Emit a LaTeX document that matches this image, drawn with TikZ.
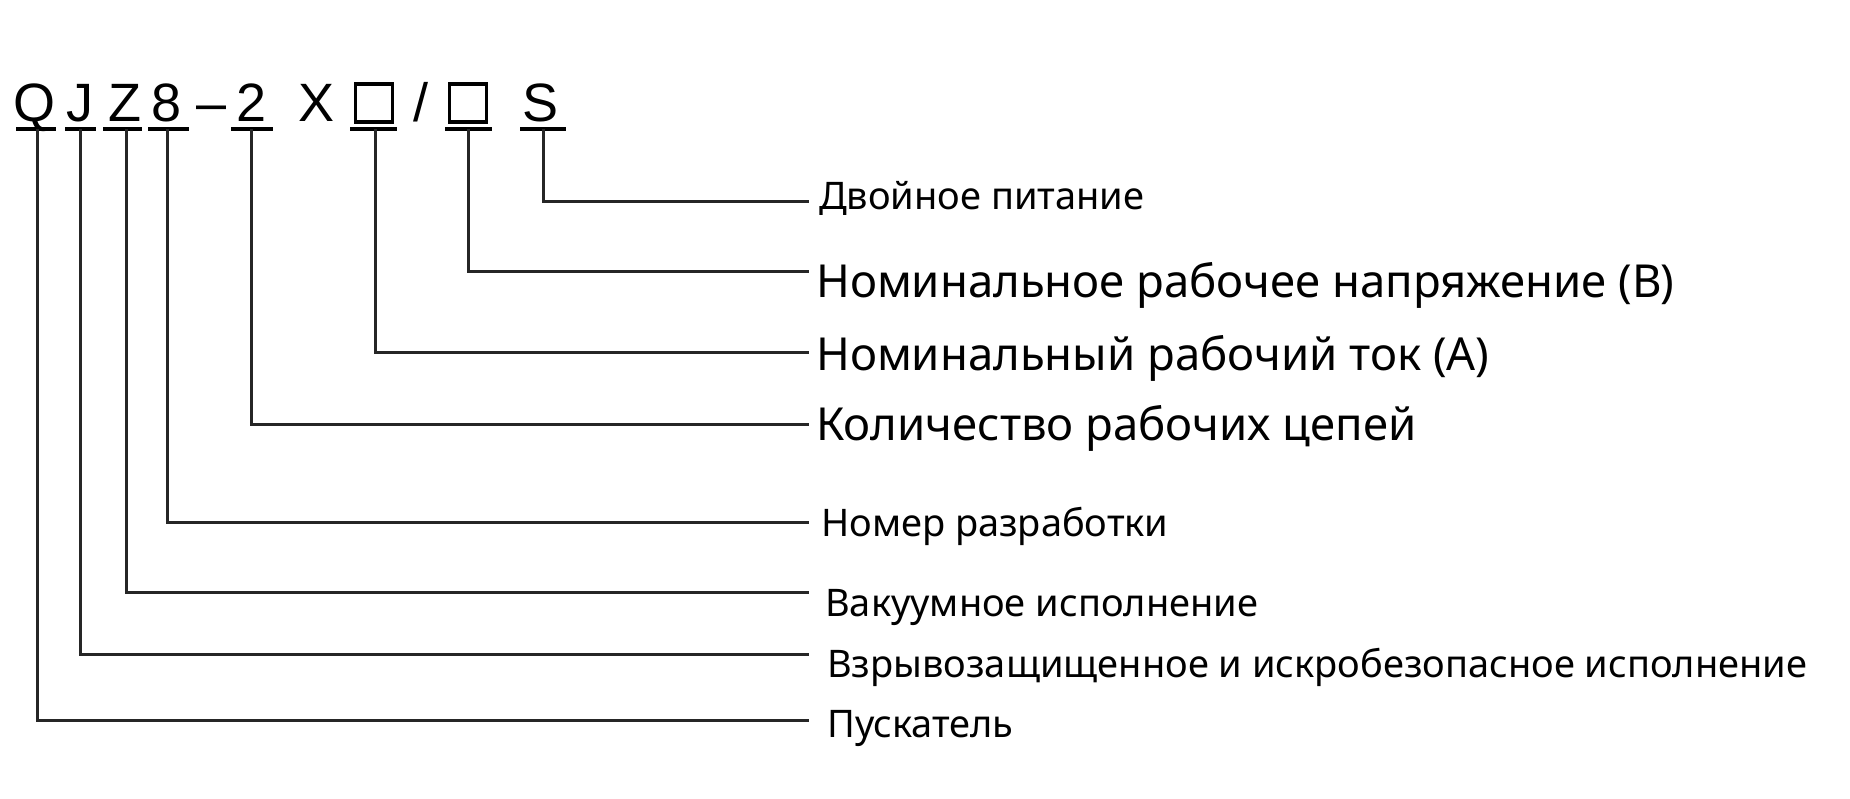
\documentclass[tikz,border=0pt]{standalone}
\usepackage{fontspec}
\setmainfont{Noto Sans}
\newfontfamily\codefont{Liberation Sans}
\begin{document}
\begin{tikzpicture}[x=1pt,y=-1pt,
  code/.style={font=\codefont\fontsize{54}{54}\selectfont, inner sep=0pt, anchor=base},
  slot/.style={draw, line width=3.4pt, minimum width=37pt, minimum height=38pt, inner sep=0pt},
  ul/.style={line width=3.4pt},
  conn/.style={line width=3pt, draw=black!85},
  lbls/.style={font=\fontsize{38}{40}\selectfont, inner sep=0pt, anchor=base west},
  lbll/.style={font=\fontsize{45.5}{48}\selectfont, inner sep=0pt, anchor=base west},
]
\useasboundingbox[fill=white] (0,0) rectangle (1850,798);
% code characters
\node[code] (cQ) at (34.5,121) {Q};
\node[code] (cJ) at (80,121) {J};
\node[code] (cZ) at (124.5,121) {Z};
\node[code] (c8) at (166.5,121) {8};
\node[code] (cd) at (212,121) {–};
\node[code] (c2) at (252,121) {2};
\node[code] (cX) at (317,121) {X};
\node[slot] (b1) at (374,103) {};
\node[code] (cs) at (421,121) {/};
\node[slot] (b2) at (468,103) {};
\node[code] (cS) at (541,121) {S};
% underlines
\coordinate (uQ) at (37,129);
\coordinate (uJ) at (80,129);
\coordinate (uZ) at (126,129);
\coordinate (u8) at (167,129);
\coordinate (u2) at (251,129);
\coordinate (u1) at (375,129);
\coordinate (uB) at (468,129);
\coordinate (uS) at (543,129);
\draw[ul] (16,129) -- (56,129);
\draw[ul] (65,129) -- (96,129);
\draw[ul] (103,129) -- (142,129);
\draw[ul] (148,129) -- (189,129);
\draw[ul] (231,129) -- (273,129);
\draw[ul] (350,129) -- (397,129);
\draw[ul] (445,129) -- (492,129);
\draw[ul] (520,129) -- (566,129);
% connector ends
\coordinate (eS) at (809,201);
\coordinate (eB) at (809,271);
\coordinate (e1) at (809,352);
\coordinate (e2) at (809,424);
\coordinate (e8) at (809,522);
\coordinate (eZ) at (809,592);
\coordinate (eJ) at (809,654);
\coordinate (eQ) at (809,720);
\draw[conn] (uS) |- (eS);
\draw[conn] (uB) |- (eB);
\draw[conn] (u1) |- (e1);
\draw[conn] (u2) |- (e2);
\draw[conn] (u8) |- (e8);
\draw[conn] (uZ) |- (eZ);
\draw[conn] (uJ) |- (eJ);
\draw[conn] (uQ) |- (eQ);
% labels
\node[lbls] (lS) at (819,209) {Двойное питание};
\node[lbll] (lB) at (816,297) {Номинальное рабочее напряжение (В)};
\node[lbll] (l1) at (816,370) {Номинальный рабочий ток (А)};
\node[lbll] (l2) at (816,440) {Количество рабочих цепей};
\node[lbls] (l8) at (821,536) {Номер разработки};
\node[lbls] (lZ) at (825,616) {Вакуумное исполнение};
\node[lbls] (lJ) at (827,677) {Взрывозащищенное и искробезопасное исполнение};
\node[lbls] (lQ) at (827,737) {Пускатель};
\end{tikzpicture}
\end{document}
